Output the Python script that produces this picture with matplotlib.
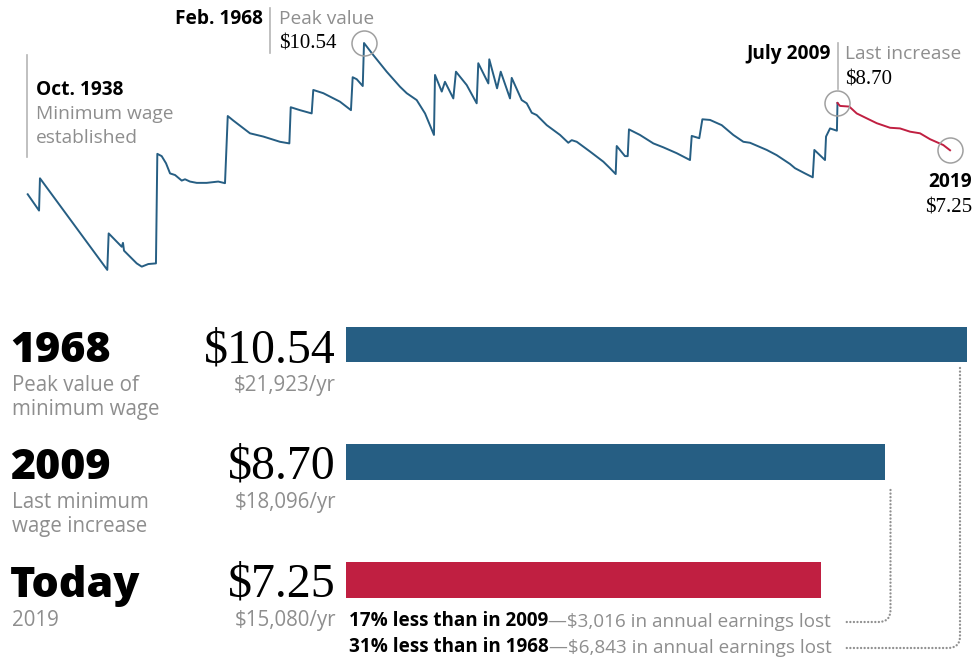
import matplotlib.pyplot as plt
from matplotlib.path import Path
from matplotlib.patches import PathPatch

years = [1938.73, 1939.72, 1939.80, 1945.68, 1945.80, 1946.94, 1947.05, 1947.14, 1948.25, 1948.69,
         1949.26, 1949.93, 1950.05, 1950.43, 1950.81, 1951.16, 1951.60, 1952.18, 1952.47, 1952.90,
         1953.49, 1954.36, 1955.37, 1955.96, 1956.20, 1956.69, 1958.14, 1959.31, 1960.76, 1961.58,
         1961.70, 1962.51, 1963.53, 1963.67, 1964.55, 1966.00, 1966.96, 1967.11, 1967.46, 1967.99,
         1968.10, 1968.91, 1970.08, 1971.24, 1971.83, 1972.70, 1973.43, 1974.21, 1974.30, 1974.89,
         1975.17, 1975.90, 1976.13, 1977.07, 1977.94, 1978.08, 1978.96, 1979.04, 1979.72, 1980.04,
         1980.85, 1981.00, 1981.87, 1982.31, 1982.75, 1983.18, 1984.06, 1985.22, 1985.94, 1986.24,
         1986.68, 1987.84, 1989.00, 1989.58, 1990.08, 1990.17, 1990.89, 1991.13, 1991.24, 1992.20,
         1993.37, 1994.24, 1995.41, 1996.57, 1996.72, 1997.38, 1997.65, 1998.32, 1999.34, 2000.35,
         2001.23, 2001.81, 2003.27, 2004.14, 2005.30, 2005.74, 2006.61, 2007.29, 2007.43, 2008.36,
         2008.45, 2008.80, 2009.40, 2009.45]
wages = [5.90, 5.40, 6.39, 3.58, 4.70, 4.29, 4.41, 4.17, 3.78, 3.68,
         3.76, 3.78, 7.14, 7.07, 6.85, 6.54, 6.49, 6.32, 6.36, 6.29,
         6.25, 6.25, 6.29, 6.24, 8.30, 8.16, 7.77, 7.67, 7.51, 7.46,
         8.57, 8.48, 8.38, 9.10, 9.00, 8.74, 8.48, 9.49, 9.43, 9.22,
         10.54, 10.17, 9.66, 9.20, 9.00, 8.79, 8.38, 7.72, 9.56, 9.05,
         9.35, 8.84, 9.66, 9.25, 8.69, 9.92, 9.30, 10.04, 9.15, 9.66,
         8.84, 9.47, 8.79, 8.69, 8.40, 8.33, 8.02, 7.72, 7.48, 7.56,
         7.51, 7.21, 6.90, 6.70, 6.52, 7.38, 7.07, 7.07, 7.89, 7.72,
         7.46, 7.34, 7.16, 6.95, 7.69, 7.62, 8.20, 8.18, 8.02, 7.72,
         7.51, 7.48, 7.26, 7.10, 6.83, 6.70, 6.54, 6.42, 7.26, 6.95,
         7.67, 7.92, 7.85, 8.70]
years_after = [2009.45, 2009.67, 2010.48, 2011.13, 2012.00, 2012.88, 2014.04, 2014.91,
               2015.79, 2016.66, 2017.53, 2018.69, 2019.28]
wages_after = [8.70, 8.61, 8.59, 8.38, 8.23, 8.08, 7.94, 7.92, 7.82, 7.77, 7.59, 7.41, 7.25]

# highlighted points
hl_years = [1968.10, 2009.45, 2019.28]
hl_wages = [10.54, 8.70, 7.25]

# bars
bar_titles = ['1968', '2009', 'Today']
bar_subs = [['Peak value of', 'minimum wage'], ['Last minimum', 'wage increase'], ['2019']]
bar_values = [10.54, 8.70, 7.25]
bar_annual = ['$21,923/yr', '$18,096/yr', '$15,080/yr']

BLUE = '#265e83'
RED = '#c01f41'
GRAY = '#8e8e8e'
RULE = '#b5b5b5'
SANS = 'Open Sans'
SERIF = 'Liberation Serif'
BAR_START = -3.45

fig = plt.figure(figsize=(9.75, 6.58), dpi=100)

# line chart
ax = fig.add_axes([0, 358 / 658, 1, 300 / 658])
ax.set_xlim(1936.31, 2021.46)
ax.set_ylim(2.657, 11.859)
ax.axis('off')
ax.plot(years, wages, color=BLUE, lw=1.4, solid_joinstyle='round')
ax.plot(years_after, wages_after, color=RED, lw=1.4, solid_joinstyle='round')
ax.plot(hl_years, hl_wages, 'o', ms=18, mfc='none', mec='#a0a0a0', mew=1.1)

# bar chart
bx = fig.add_axes([0, 0, 1, 358 / 658])
bx.set_xlim(-11.239, 10.721)
bx.set_ylim(2.665, -0.378)
bx.axis('off')
rows = range(len(bar_values))
bx.barh(rows, [v - BAR_START for v in bar_values], left=BAR_START, height=0.303,
        color=[BLUE, BLUE, RED], edgecolor='none')

# overlay for text, pixel coords
ov = fig.add_axes([0, 0, 1, 1])
ov.set_xlim(0, 975)
ov.set_ylim(658, 0)
ov.axis('off')
for a in (ax, bx, ov):
    a.patch.set_visible(False)


def t(x, y, s, size=13.8, color='black', weight='normal', family=SANS, ha='left'):
    return ov.text(x, y, s, fontsize=size, color=color, fontweight=weight,
                   family=family, ha=ha, va='baseline')


# annotations on the line
ov.plot([27, 27], [55, 157], color=RULE, lw=1.2)
t(36, 95, 'Oct. 1938', weight='bold')
t(36, 119, 'Minimum wage', color=GRAY)
t(36, 143, 'established', color=GRAY)

ov.plot([270, 270], [8, 53], color=RULE, lw=1.2)
t(263, 24, 'Feb. 1968', weight='bold', ha='right')
t(279, 24, 'Peak value', color=GRAY)
t(279, 49, '$10.54', size=15, family=SERIF)

ov.plot([838, 838], [43, 89], color=RULE, lw=1.2)
t(831, 59, 'July 2009', weight='bold', ha='right')
t(845, 59, 'Last increase', color=GRAY)
t(845, 84, '$8.70', size=15, family=SERIF)

t(972, 187, '2019', weight='bold', ha='right')
t(972, 212, '$7.25', size=15, family=SERIF, ha='right')

# bar labels
base = [362, 479, 597]
for i in rows:
    y0 = base[i]
    t(10, y0, bar_titles[i], size=31, weight='heavy')
    for j, s in enumerate(bar_subs[i]):
        t(12, y0 + 29 + 24 * j, s, size=14.8, color=GRAY)
    t(336, y0, '$%.2f' % bar_values[i], size=34.5, family=SERIF, ha='right')
    t(336, y0 + 29, bar_annual[i], size=14.8, color=GRAY, ha='right')

# comparison notes
notes = [('17% less than in 2009', '\u2014$3,016 in annual earnings lost', 626),
         ('31% less than in 1968', '\u2014$6,843 in annual earnings lost', 652)]
for bold, rest, y in notes:
    b = t(349, y, bold, size=13.6, weight='bold')
    ov.annotate(rest, xy=(1, 0), xycoords=b, fontsize=13.6, color=GRAY,
                family=SANS, ha='left', va='bottom')

# dotted connectors
dots = dict(fill=False, edgecolor='#909090', lw=1.7, linestyle=(0, (0.01, 1.5)), capstyle='round')
for x, ytop, ybot, xend in [(960, 368, 648, 846), (890.5, 490, 622, 846)]:
    p = Path([(x, ytop), (x, ybot - 12), (x, ybot), (x - 12, ybot), (xend, ybot)],
             [Path.MOVETO, Path.LINETO, Path.CURVE3, Path.CURVE3, Path.LINETO])
    ov.add_patch(PathPatch(p, **dots))

fig.savefig('out.png', dpi=100)
